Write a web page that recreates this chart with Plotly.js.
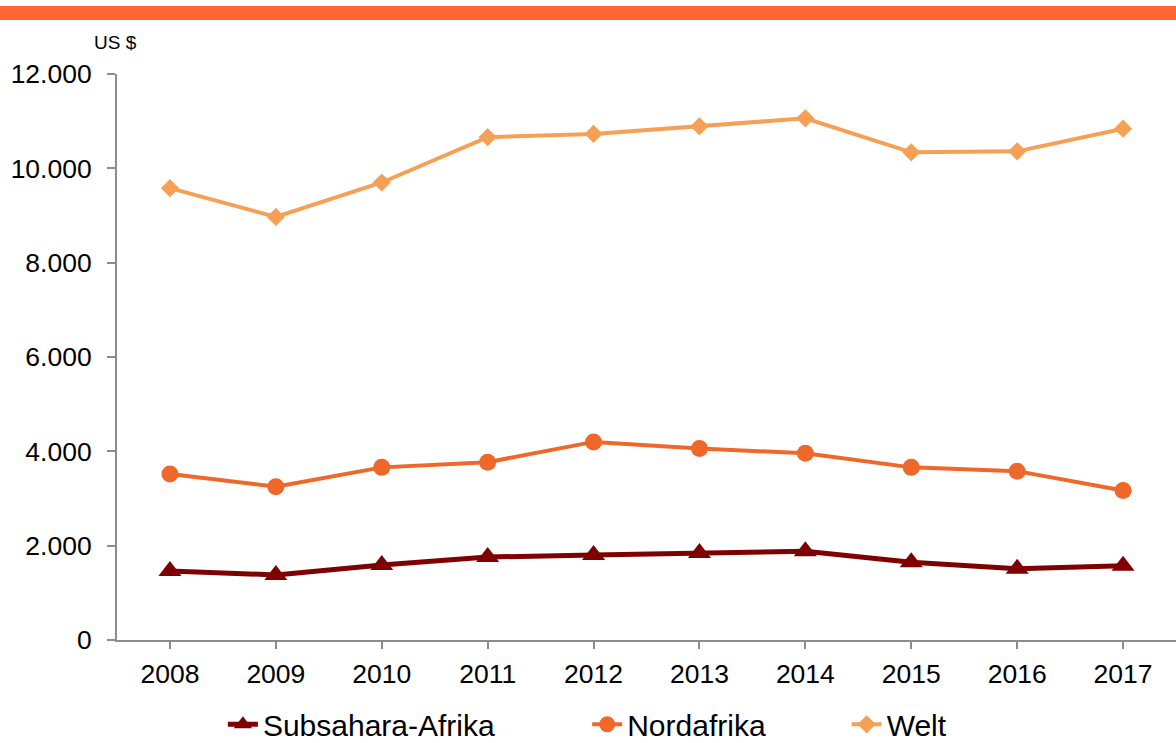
<!DOCTYPE html>
<html>
<head>
<meta charset="utf-8">
<script src="https://cdn.plot.ly/plotly-3.0.1.min.js"></script>
<style>html,body{margin:0;padding:0;background:#fff;}#chart{width:1176px;height:743px;}</style>
</head>
<body>
<div id="chart"></div>
<script>
const years = ['2008','2009','2010','2011','2012','2013','2014','2015','2016','2017'];
const subsahara = [1465, 1380, 1590, 1760, 1800, 1845, 1880, 1650, 1510, 1575];
const nordafrika = [3520, 3250, 3660, 3770, 4200, 4060, 3960, 3660, 3580, 3170];
const welt = [9580, 8970, 9700, 10660, 10730, 10890, 11060, 10340, 10360, 10840];
const yTicks = [0, 2000, 4000, 6000, 8000, 10000, 12000];
const yTickText = ['0', '2.000', '4.000', '6.000', '8.000', '10.000', '12.000'];

const font = 'Liberation Sans, Arial, sans-serif';
const traces = [
  {x: years, y: subsahara, name: 'Subsahara-Afrika', type: 'scatter', mode: 'lines+markers', legend: 'legend',
   line: {color: '#7f0000', width: 5}, marker: {symbol: 'triangle-up', size: 20, color: '#7f0000'}},
  {x: years, y: nordafrika, name: 'Nordafrika', type: 'scatter', mode: 'lines+markers', legend: 'legend2',
   line: {color: '#f0672a', width: 4}, marker: {symbol: 'circle', size: 17, color: '#f0672a'}},
  {x: years, y: welt, name: 'Welt', type: 'scatter', mode: 'lines+markers', legend: 'legend3',
   line: {color: '#f5a055', width: 4}, marker: {symbol: 'diamond', size: 14, color: '#f5a055'}}
];
const legBase = {orientation: 'h', xanchor: 'left', y: -0.149, yanchor: 'middle',
                 font: {size: 30, family: font, color: '#000'}, bgcolor: 'rgba(0,0,0,0)'};
const layout = {
  width: 1176, height: 743,
  margin: {l: 117, r: 0, t: 74, b: 103, autoexpand: false},
  paper_bgcolor: '#fff', plot_bgcolor: '#fff',
  font: {family: font, color: '#000'},
  showlegend: true,
  legend: Object.assign({}, legBase, {x: 0.100}),
  legend2: Object.assign({}, legBase, {x: 0.444}),
  legend3: Object.assign({}, legBase, {x: 0.689}),
  xaxis: {type: 'category', range: [-0.5, 9.5], showgrid: false, zeroline: false,
          showline: true, linecolor: '#8c8c8c', linewidth: 2, automargin: false,
          ticks: 'outside', ticklen: 7, tickwidth: 2, tickcolor: '#8c8c8c',
          tickfont: {size: 26.5, family: font}, ticklabelstandoff: 2, fixedrange: true},
  yaxis: {range: [0, 12000], tickvals: yTicks, ticktext: yTickText, showgrid: false, zeroline: false,
          showline: true, linecolor: '#8c8c8c', linewidth: 2, automargin: false,
          ticks: 'outside', ticklen: 8, tickwidth: 2, tickcolor: '#8c8c8c',
          tickfont: {size: 26.5, family: font}, ticklabelstandoff: 10, fixedrange: true},
  shapes: [{type: 'rect', xref: 'paper', yref: 'paper', x0: -0.12, x1: 1.01,
            y0: 1.0954, y1: 1.1201, fillcolor: '#ff6633', line: {width: 0}, layer: 'above'}],
  annotations: [{text: 'US $', xref: 'paper', yref: 'paper', x: -0.001, y: 1.0548,
                 xanchor: 'center', yanchor: 'middle', showarrow: false,
                 font: {size: 19, family: font, color: '#000'}}]
};
Plotly.newPlot('chart', traces, layout, {displayModeBar: false, staticPlot: true});
</script>
</body>
</html>
